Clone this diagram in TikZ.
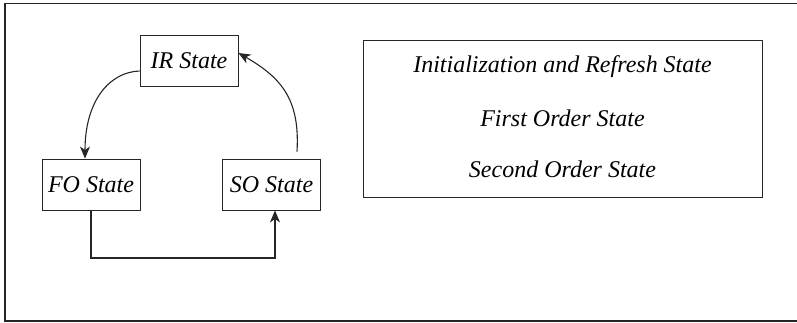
\documentclass[tikz,border=0pt]{standalone}
\usepackage{fontspec}
\setmainfont{Liberation Serif}
\usetikzlibrary{arrows.meta}
\begin{document}
\begin{tikzpicture}[x=1pt,y=-1pt,
  statebox/.style={draw=black!85, line width=0.9pt, minimum width=98pt, minimum height=51pt, inner sep=0pt, font=\fontsize{24}{28}\selectfont\itshape},
  lbl/.style={font=\fontsize{24}{28}\selectfont\itshape, inner sep=0pt},
  conn/.style={line width=1.1pt, draw=black!85, -{Stealth[length=12pt,width=10pt,inset=3.5pt]}}]
\useasboundingbox (0,0) rectangle (797,322);
\draw[line width=1.5pt, black!85] (805,3.5) -- (5,3.5) -- (5,321) -- (805,321);

\node[statebox] (ir) at (189,60.5) {IR State};
\node[statebox] (fo) at (91,184.5) {FO State};
\node[statebox] (so) at (271.5,184.5) {SO State};

\node[draw=black!85, line width=0.9pt, minimum width=399pt, minimum height=157pt, inner sep=0pt] (legend) at (562.5,118.5) {};
\node[lbl] (t1) at (562.5,67) {Initialization and Refresh State};
\node[lbl] (t2) at (562.5,118) {First Order State};
\node[lbl] (t3) at (562.5,169) {Second Order State};

\draw[conn] ([yshift=-10.5pt]ir.west) .. controls (110,72) and (85,100) .. ([xshift=-6pt]fo.north);
\draw[conn] ([xshift=25.5pt,yshift=7pt]so.north) .. controls (300,100) and (282,78) .. ([yshift=7.5pt]ir.east);
\coordinate (b1) at (91,258);
\draw[conn] (fo.south) -- (b1) -| ([xshift=3.5pt]so.south);
\end{tikzpicture}
\end{document}
